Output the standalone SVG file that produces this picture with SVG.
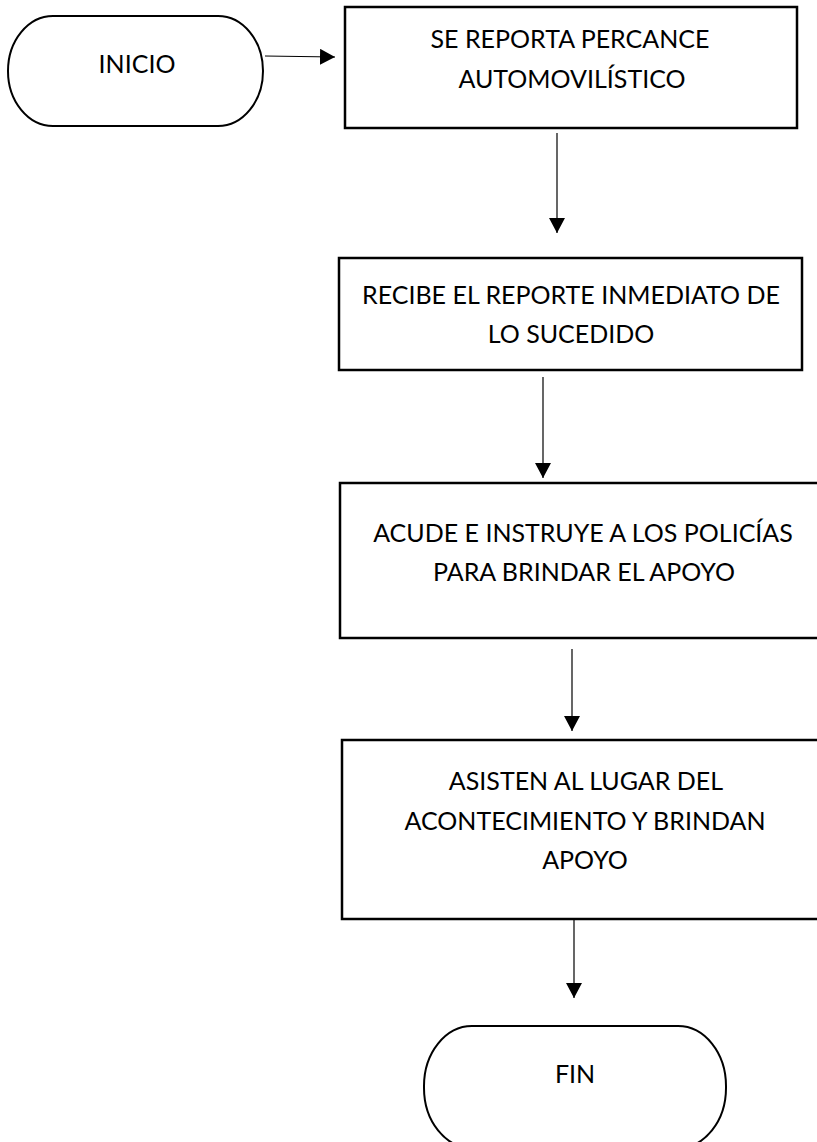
<svg xmlns="http://www.w3.org/2000/svg" width="817" height="1142" viewBox="0 0 817 1142">
<style>
.box{fill:#fff;stroke:#000;stroke-width:2.5}
.term{fill:#fff;stroke:#000;stroke-width:2}
.conn{fill:none;stroke:#000;stroke-width:1.2}
text{font-family:Lato,"Open Sans","Liberation Sans",sans-serif;font-size:25px;fill:#000;text-anchor:middle}
</style>
<defs>
<marker id="ah" markerUnits="userSpaceOnUse" markerWidth="16" markerHeight="16" refX="15" refY="8" orient="auto" viewBox="0 0 16 16">
<path d="M0,0 L15,8 L0,16 Z" fill="#000"/>
</marker>
</defs>
<rect width="817" height="1142" fill="#fff"/>
<g id="connectors">
<line class="conn" x1="265" y1="56" x2="335" y2="57" marker-end="url(#ah)"/>
<line class="conn" x1="557" y1="133" x2="557" y2="233" marker-end="url(#ah)"/>
<line class="conn" x1="543" y1="377" x2="543" y2="478" marker-end="url(#ah)"/>
<line class="conn" x1="572" y1="649" x2="572" y2="731" marker-end="url(#ah)"/>
<line class="conn" x1="574" y1="916" x2="574" y2="998" marker-end="url(#ah)"/>
</g>
<g id="inicio">
<rect class="term" x="8" y="16" width="255" height="110" rx="45" ry="55"/>
<text x="137" y="73">INICIO</text>
</g>
<g id="reporta">
<rect class="box" x="345" y="7" width="452" height="121"/>
<text x="570" y="48">SE REPORTA PERCANCE</text>
<text x="572" y="88">AUTOMOVILÍSTICO</text>
</g>
<g id="recibe">
<rect class="box" x="339" y="258" width="463" height="112"/>
<text x="571" y="304">RECIBE EL REPORTE INMEDIATO DE</text>
<text x="571" y="343">LO SUCEDIDO</text>
</g>
<g id="acude">
<rect class="box" x="340" y="483" width="490" height="155"/>
<text x="583" y="542">ACUDE E INSTRUYE A LOS POLICÍAS</text>
<text x="584" y="581">PARA BRINDAR EL APOYO</text>
</g>
<g id="asisten">
<rect class="box" x="342" y="740" width="490" height="179"/>
<text x="586" y="790">ASISTEN AL LUGAR DEL</text>
<text x="585" y="830">ACONTECIMIENTO Y BRINDAN</text>
<text x="585" y="869">APOYO</text>
</g>
<g id="fin">
<rect class="term" x="424" y="1026" width="302" height="122" rx="48" ry="60"/>
<text x="575" y="1083">FIN</text>
</g>
</svg>
